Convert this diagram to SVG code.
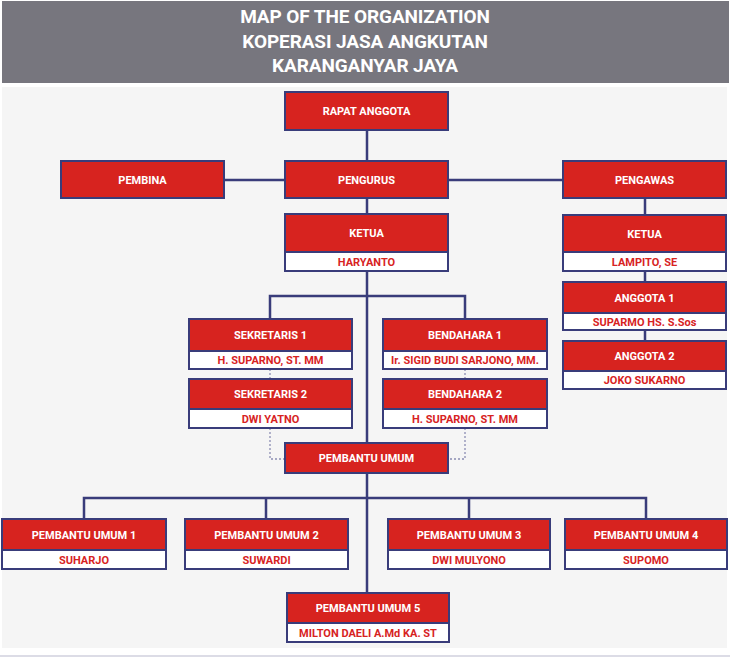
<svg xmlns="http://www.w3.org/2000/svg" width="730" height="658" viewBox="0 0 730 658">
<style>
.r{fill:#d7231f;stroke:#393c7a;stroke-width:2}
.w{fill:#ffffff;stroke:#393c7a;stroke-width:2}
.t{font-family:Roboto,"Liberation Sans",sans-serif;font-weight:700;font-size:11px;text-anchor:middle;fill:#ffffff}
.s{font-family:Roboto,"Liberation Sans",sans-serif;font-weight:700;font-size:11px;text-anchor:middle;fill:#d7231f}
.h{font-family:Roboto,"Liberation Sans",sans-serif;font-weight:700;font-size:19px;text-anchor:middle;fill:#ffffff;letter-spacing:-0.1px}
.c{fill:none;stroke:#393c7a;stroke-width:2.5}
.d{fill:none;stroke:#8b8db3;stroke-width:1.3;stroke-dasharray:2 2}
</style>
<rect x="0" y="0" width="730" height="658" fill="#ffffff"/>
<rect x="2" y="1" width="727" height="82" fill="#77767e"/>
<text class="h" x="365" y="23">MAP OF THE ORGANIZATION</text>
<text class="h" x="365" y="48">KOPERASI JASA ANGKUTAN</text>
<text class="h" x="365" y="72">KARANGANYAR JAYA</text>
<rect x="2" y="87" width="725" height="561" fill="#f5f5f5"/>
<line x1="0" y1="656" x2="730" y2="656" stroke="#dcdce6" stroke-width="2"/>
<g id="connectors">
<path class="c" d="M367 130V161M224 180H285M448 180H563M367 198V214M367 271V443M270 319V296H465V319M367 473V593M84 519V498H646V519M266 498V519M469 498V519M645 198V215M645 271V282M645 330V341"/>
<path class="d" d="M270 369V379M465 369V379M270 428V459H285M465 428V459H448"/>
</g>
<g id="rapat-anggota"><rect class="r" x="285" y="92" width="163" height="38"/><text class="t" x="366.5" y="115">RAPAT ANGGOTA</text></g>
<g id="pembina"><rect class="r" x="61" y="161" width="163" height="37"/><text class="t" x="142.5" y="183.5">PEMBINA</text></g>
<g id="pengurus"><rect class="r" x="285" y="161" width="163" height="37"/><text class="t" x="366.5" y="183.5">PENGURUS</text></g>
<g id="pengawas"><rect class="r" x="563" y="161" width="163" height="37"/><text class="t" x="644.5" y="183.5">PENGAWAS</text></g>
<g id="ketua"><rect class="r" x="285" y="214" width="163" height="38"/><rect class="w" x="285" y="252" width="163" height="19"/><text class="t" x="366.5" y="237">KETUA</text><text class="s" x="366.5" y="265.5">HARYANTO</text></g>
<g id="ketua-pengawas"><rect class="r" x="563" y="215" width="163" height="37"/><rect class="w" x="563" y="252" width="163" height="19"/><text class="t" x="644.5" y="237.5">KETUA</text><text class="s" x="644.5" y="265.5">LAMPITO, SE</text></g>
<g id="anggota-1"><rect class="r" x="563" y="282" width="163" height="31"/><rect class="w" x="563" y="313" width="163" height="17"/><text class="t" x="644.5" y="301.5">ANGGOTA 1</text><text class="s" x="644.5" y="325.5">SUPARMO HS. S.Sos</text></g>
<g id="anggota-2"><rect class="r" x="563" y="341" width="163" height="30"/><rect class="w" x="563" y="371" width="163" height="18"/><text class="t" x="644.5" y="360">ANGGOTA 2</text><text class="s" x="644.5" y="384">JOKO SUKARNO</text></g>
<g id="sekretaris-1"><rect class="r" x="189" y="319" width="163" height="32"/><rect class="w" x="189" y="351" width="163" height="18"/><text class="t" x="270.5" y="339">SEKRETARIS 1</text><text class="s" x="270.5" y="364">H. SUPARNO, ST. MM</text></g>
<g id="sekretaris-2"><rect class="r" x="189" y="379" width="163" height="30"/><rect class="w" x="189" y="409" width="163" height="19"/><text class="t" x="270.5" y="398">SEKRETARIS 2</text><text class="s" x="270.5" y="422.5">DWI YATNO</text></g>
<g id="bendahara-1"><rect class="r" x="383" y="319" width="164" height="32"/><rect class="w" x="383" y="351" width="164" height="18"/><text class="t" x="465" y="339">BENDAHARA 1</text><text class="s" x="465" y="364">Ir. SIGID BUDI SARJONO, MM.</text></g>
<g id="bendahara-2"><rect class="r" x="383" y="379" width="164" height="30"/><rect class="w" x="383" y="409" width="164" height="19"/><text class="t" x="465" y="398">BENDAHARA 2</text><text class="s" x="465" y="422.5">H. SUPARNO, ST. MM</text></g>
<g id="pembantu-umum"><rect class="r" x="285" y="443" width="163" height="30"/><text class="t" x="366.5" y="462">PEMBANTU UMUM</text></g>
<g id="pembantu-umum-1"><rect class="r" x="2" y="519" width="164" height="31"/><rect class="w" x="2" y="550" width="164" height="19"/><text class="t" x="84" y="538.5">PEMBANTU UMUM 1</text><text class="s" x="84" y="563.5">SUHARJO</text></g>
<g id="pembantu-umum-2"><rect class="r" x="185" y="519" width="163" height="31"/><rect class="w" x="185" y="550" width="163" height="19"/><text class="t" x="266.5" y="538.5">PEMBANTU UMUM 2</text><text class="s" x="266.5" y="563.5">SUWARDI</text></g>
<g id="pembantu-umum-3"><rect class="r" x="388" y="519" width="162" height="31"/><rect class="w" x="388" y="550" width="162" height="19"/><text class="t" x="469" y="538.5">PEMBANTU UMUM 3</text><text class="s" x="469" y="563.5">DWI MULYONO</text></g>
<g id="pembantu-umum-4"><rect class="r" x="565" y="519" width="162" height="31"/><rect class="w" x="565" y="550" width="162" height="19"/><text class="t" x="646" y="538.5">PEMBANTU UMUM 4</text><text class="s" x="646" y="563.5">SUPOMO</text></g>
<g id="pembantu-umum-5"><rect class="r" x="287" y="593" width="162" height="30"/><rect class="w" x="287" y="623" width="162" height="19"/><text class="t" x="368" y="612">PEMBANTU UMUM 5</text><text class="s" x="368" y="636.5">MILTON DAELI A.Md KA. ST</text></g>
</svg>
